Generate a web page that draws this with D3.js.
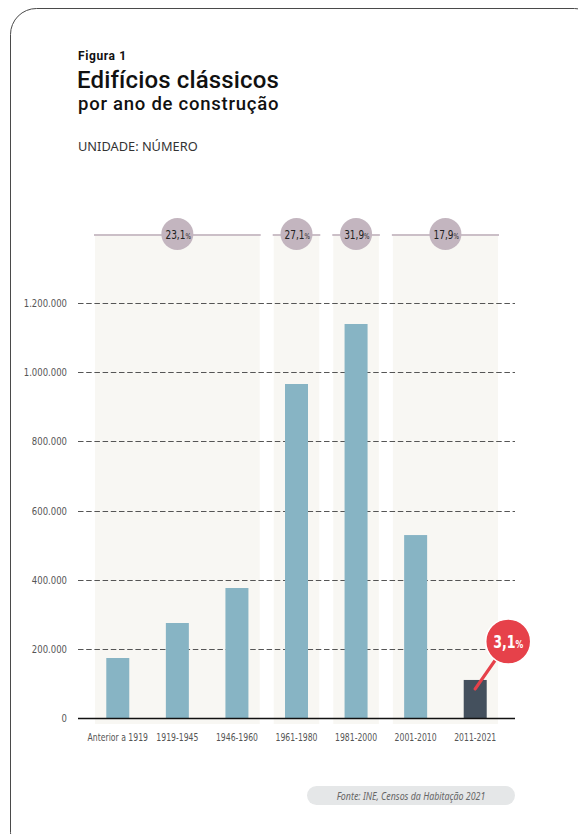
<!DOCTYPE html>
<html><head><meta charset="utf-8">
<script src="https://cdn.jsdelivr.net/npm/d3@7"></script>
<style>
html,body{margin:0;padding:0;background:#fff;}
svg{display:block;}
</style></head>
<body>
<svg id="chart" width="578" height="834"></svg>
<script>
const categories = ["Anterior a 1919","1919-1945","1946-1960","1961-1980","1981-2000","2001-2010","2011-2021"];
const values = [173500, 274700, 375900, 965800, 1139300, 529000, 110000];
const yTicks = [0, 200000, 400000, 600000, 800000, 1000000, 1200000];
const groupLabels = ["23,1", "27,1", "31,9", "17,9"];
const groupStart = [0, 3, 4, 5];
const groupEnd = [2, 3, 4, 6];
const highlightIndex = 6;
const highlightLabel = "3,1";

const condensed = "'DejaVu Sans Condensed','DejaVu Sans',sans-serif";
const titleFont = "Roboto,'Noto Sans',sans-serif";
const svg = d3.select("#chart");

// frame
svg.append("rect").attr("x",10.5).attr("y",8.5).attr("width",590).attr("height",850)
  .attr("rx",26).attr("fill","none").attr("stroke","#4a4a4a").attr("stroke-width",1);

// titles
svg.append("text").attr("x",78).attr("y",59.5).text("Figura 1")
  .attr("font-family",titleFont).attr("font-weight",700).attr("font-size",12).attr("letter-spacing",0.6).attr("fill","#111");
svg.append("text").attr("x",77).attr("y",87.5).text("Edifícios clássicos")
  .attr("font-family",titleFont).attr("font-weight",500).attr("font-size",24).attr("letter-spacing",0.15).attr("fill","#111");
svg.append("text").attr("x",78).attr("y",110).text("por ano de construção")
  .attr("font-family",titleFont).attr("font-weight",500).attr("font-size",18.5).attr("letter-spacing",0.75).attr("fill","#111");
svg.append("text").attr("x",78).attr("y",151).text("UNIDADE: NÚMERO")
  .attr("font-family","'Noto Sans',sans-serif").attr("font-size",12.8).attr("fill","#333");

// scales
const x = d3.scaleBand().domain(categories).range([88, 505]).padding(0);
const y = d3.scaleLinear().domain([0, 1200000]).range([718, 303]);
const barW = 23;
const inset = 7;
const fmt = d3.formatLocale({decimal:",", thousands:".", grouping:[3], currency:["","€"]}).format(",d");

// group shading + top lines
const groups = groupLabels.map((l,i)=>({label:l, x0:x(categories[groupStart[i]])+inset, x1:x(categories[groupEnd[i]])+x.bandwidth()-inset}));
svg.append("g").selectAll("rect").data(groups).join("rect")
  .attr("x",d=>d.x0).attr("y",236).attr("width",d=>d.x1-d.x0).attr("height",724-236)
  .attr("fill","#f8f7f3");
svg.append("g").selectAll("line").data(groups).join("line")
  .attr("x1",d=>d.x0-1).attr("x2",d=>d.x1+1).attr("y1",235).attr("y2",235)
  .attr("stroke","#cbbfc7").attr("stroke-width",2);

// gridlines
svg.append("g").selectAll("line").data(yTicks.filter(t=>t>0)).join("line")
  .attr("x1",78).attr("x2",515).attr("y1",d=>Math.round(y(d))+0.5).attr("y2",d=>Math.round(y(d))+0.5)
  .attr("stroke","#555").attr("stroke-width",1.1).attr("stroke-dasharray","5.5,2.7");

// y axis labels
const yAxis = d3.axisLeft(y).tickValues(yTicks).tickFormat(fmt).tickSize(0).tickPadding(0);
const ya = svg.append("g").attr("transform","translate(67,0)").call(yAxis);
ya.select(".domain").remove();
ya.selectAll("text").attr("font-family",condensed).attr("font-size",11).attr("fill","#555")
  .attr("dy","0.32em").attr("transform","scale(0.86,1)");

// bars
svg.append("g").selectAll("rect").data(values).join("rect")
  .attr("x",(d,i)=>x(categories[i])+x.bandwidth()/2-barW/2)
  .attr("y",d=>y(d)).attr("width",barW).attr("height",d=>y(0)-y(d))
  .attr("fill",(d,i)=>i===highlightIndex?"#44505d":"#87b4c4");

// baseline
svg.append("line").attr("x1",78).attr("x2",515).attr("y1",y(0)+0.5).attr("y2",y(0)+0.5)
  .attr("stroke","#111").attr("stroke-width",1.3);

// x axis labels
const xAxis = d3.axisBottom(x).tickSize(0).tickPadding(0);
const xa = svg.append("g").attr("transform",`translate(0,${y(0)})`).call(xAxis);
xa.select(".domain").remove();
xa.selectAll("text").attr("font-family",condensed).attr("font-size",11).attr("fill","#555")
  .attr("dy","0").attr("y",23.5).attr("transform","scale(0.78,1)");

// group circles
const gc = svg.append("g").selectAll("g").data(groups).join("g")
  .attr("transform",d=>`translate(${(d.x0+d.x1)/2},234)`);
gc.append("circle").attr("r",16).attr("fill","#c3b5bf");
const gt = gc.append("text").attr("text-anchor","middle").attr("y",4.5).attr("x",1)
  .attr("font-family",condensed).attr("fill","#222").attr("transform","scale(0.8,1)");
gt.append("tspan").attr("font-size",12.5).text(d=>d.label);
gt.append("tspan").attr("font-size",8).text("%");

// highlight callout
const hx = x(categories[highlightIndex]) + x.bandwidth()/2;
const hy = y(values[highlightIndex]) + 9;
const cx = hx + 33, cy = 641.5;
svg.append("line").attr("x1",hx).attr("y1",hy).attr("x2",cx).attr("y2",cy)
  .attr("stroke","#e6414a").attr("stroke-width",3.2).attr("stroke-linecap","round");
svg.append("circle").attr("cx",cx).attr("cy",cy).attr("r",22.5).attr("fill","#e6414a")
  .attr("stroke","#fff").attr("stroke-width",1.5);
const ht = svg.append("g").attr("transform",`translate(${cx},${cy+6.5}) scale(0.78,1)`)
  .append("text").attr("text-anchor","middle")
  .attr("font-family",condensed).attr("font-weight",700).attr("fill","#fff");
ht.append("tspan").attr("font-size",18).text(highlightLabel);
ht.append("tspan").attr("font-size",11).text("%");

// source pill
svg.append("rect").attr("x",307).attr("y",786).attr("width",208).attr("height",19).attr("rx",9.5).attr("fill","#e5e7e8");
svg.append("g").attr("transform","translate(411,799.5) scale(0.82,1)")
  .append("text").attr("text-anchor","middle")
  .attr("font-family","'Noto Sans',sans-serif").attr("font-style","italic").attr("font-size",10.8).attr("fill","#666")
  .text("Fonte: INE, Censos da Habitação 2021");
</script>
</body></html>
